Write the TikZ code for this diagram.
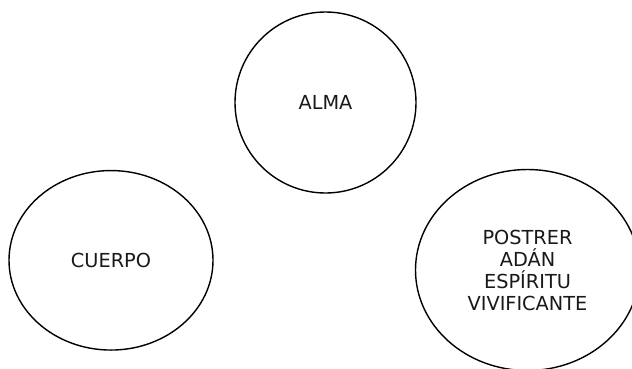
\documentclass[tikz,border=0pt]{standalone}
\usepackage{fontspec}
\setmainfont{DejaVu Sans}
\usetikzlibrary{shapes.geometric}
\begin{document}
\begin{tikzpicture}[x=1pt,y=-1pt,
  bubble/.style={ellipse,draw=black,line width=1.4pt,inner sep=0pt,
    align=center,text=black!90,
    font=\fontsize{19.3}{22}\selectfont}]
  \useasboundingbox (0,0) rectangle (632,368);
  \clip (0,0) rectangle (632,368);
  \fill[white] (0,0) rectangle (632,368);
  \node[bubble,minimum width=181pt,minimum height=181pt] (alma) at (325.5,102.5) {ALMA};
  \node[bubble,minimum width=204pt,minimum height=179.5pt] (cuerpo) at (111,260.3) {CUERPO};
  \node[bubble,minimum width=224pt,minimum height=201pt] (adan) at (527.5,270) {POSTRER\\ADÁN\\ESPÍRITU\\VIVIFICANTE};
\end{tikzpicture}
\end{document}
